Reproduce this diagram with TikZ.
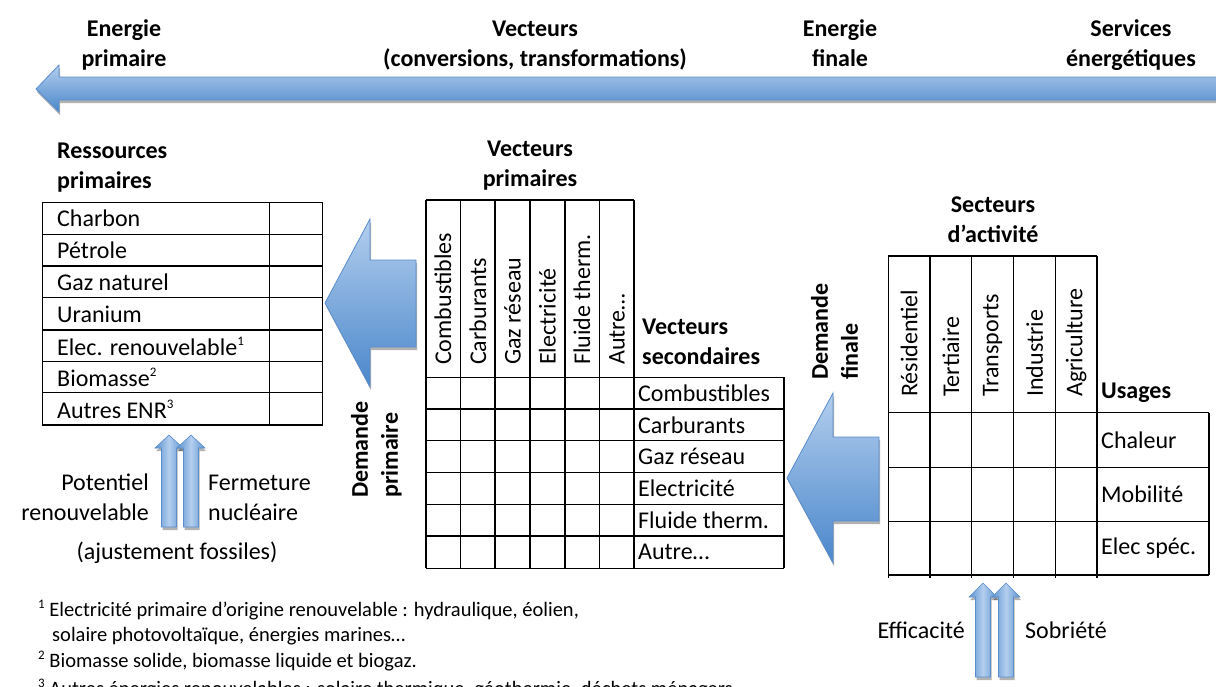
\documentclass[tikz,border=0pt]{standalone}
\usepackage{fontspec}
\setmainfont{Carlito}
\usetikzlibrary{shadows}
\definecolor{arlight}{HTML}{B3CEEE}
\definecolor{ardark}{HTML}{4A87CB}
\definecolor{arline}{HTML}{5A8DCC}
\newcommand\mysup[1]{\raisebox{0.42em}{\fontsize{13}{13}\selectfont #1}}
\begin{document}
\begin{tikzpicture}[x=1pt,y=-1pt,
  txt/.style={inner sep=0pt, font=\fontsize{24}{30}\selectfont},
  bold/.style={inner sep=0pt, font=\fontsize{24}{30}\selectfont\bfseries, align=center},
  two/.style={execute at begin node=\strut, execute at end node=\strut},
  foot/.style={inner sep=0pt, font=\fontsize{20.5}{25}\selectfont, anchor=west},
  vtxt/.style={txt, rotate=90, anchor=west},
  gridline/.style={line width=1.2pt, black},
  arshadow/.style={drop shadow={shadow xshift=1pt, shadow yshift=-3pt, opacity=0.3, fill=black}},
  bigarrow/.style={draw=arline, line width=0.8pt, top color=arlight, bottom color=ardark, arshadow},
  smallarrow/.style={draw=arline, line width=0.6pt, left color=ardark!90, right color=ardark!90, middle color=arlight, arshadow}
]
\useasboundingbox (0,0) rectangle (1216,686);
\clip (0,0) rectangle (1216,686);

% ---------- arrows ----------
\path[bigarrow] (1235,77) -- (59,77) -- (59,65) -- (36,89) -- (59,112) -- (59,100) -- (1235,100) -- cycle;
\path[bigarrow] (416,260) -- (370,260) -- (370,219) -- (325,303) -- (370,387) -- (370,347) -- (416,347) -- cycle;
\path[bigarrow] (879,437) -- (833,437) -- (833,393) -- (787,478) -- (833,563) -- (833,521) -- (879,521) -- cycle;
\foreach \cx/\ty/\by/\bt in {169/435/448/527, 191/435/448/527, 983/583/597/677, 1006/583/597/677}{
  \path[smallarrow] (\cx-7.5,\bt) -- (\cx-7.5,\by) -- (\cx-14,\by) -- (\cx,\ty) -- (\cx+14,\by) -- (\cx+7.5,\by) -- (\cx+7.5,\bt) -- cycle;
}

% ---------- left table ----------
\draw[gridline] (42.5,202.7) rectangle (322.5,425);
\draw[gridline] (269.5,202.7) -- (269.5,425);
\foreach \yy in {234.3,266,297.7,330,361.7,392.7}{\draw[gridline] (42.5,\yy) -- (322.5,\yy);}

% ---------- middle table ----------
\draw[gridline] (426,200) -- (634,200);
\foreach \xx in {426,460.5,495,530,565,599.5,634}{\draw[gridline] (\xx,200) -- (\xx,568.3);}
\draw[gridline] (784,377.3) -- (784,568.3);
\foreach \yy in {377.3,409,440.7,472.5,504.3,536,568.3}{\draw[gridline] (426,\yy) -- (784,\yy);}

% ---------- right table ----------
\draw[gridline] (888.3,256) -- (1097,256);
\foreach \xx in {888.3,930,971.7,1013.3,1055.7,1097}{\draw[gridline] (\xx,256) -- (\xx,578);}
\draw[gridline] (1209,412.7) -- (1209,575);
\foreach \yy in {412.7,467.5,521.5,575}{\draw[gridline] (888.3,\yy) -- (1209,\yy);}

% ---------- top labels ----------
\node[bold, two] (ep) at (124,48) {Energie\\primaire};
\node[bold, two] (vc) at (535,48) {Vecteurs\\(conversions, transformations)};
\node[bold, two] (ef) at (840,48) {Energie\\finale};
\node[bold, two] (se) at (1131,48) {Services\\énergétiques};

% ---------- left table text ----------
\node[bold, two, align=left, anchor=west] (rp) at (57,170) {Ressources\\primaires};
\node[txt, anchor=west] (r1) at (57,218.5) {Charbon};
\node[txt, anchor=west] (r2) at (57,250) {Pétrole};
\node[txt, anchor=west] (r3) at (57,282) {Gaz naturel};
\node[txt, anchor=west] (r4) at (57,314) {Uranium};
\node[txt, anchor=west] (r5) at (57,346) {Elec. renouvelable\mysup{1}};
\node[txt, anchor=west] (r6) at (57,377) {Biomasse\mysup{2}};
\node[txt, anchor=west] (r7) at (57,409) {Autres ENR\mysup{3}};

% ---------- middle table text ----------
\node[bold, two] (vp) at (530,168.5) {Vecteurs\\primaires};
\node[vtxt] (h1) at (443,365) {Combustibles};
\node[vtxt] (h2) at (478,365) {Carburants};
\node[vtxt] (h3) at (512.5,365) {Gaz réseau};
\node[vtxt] (h4) at (547.5,365) {Electricité};
\node[vtxt] (h5) at (582,365) {Fluide therm.};
\node[vtxt] (h6) at (617,365) {Autre…};
\node[bold, two, align=left, anchor=west] (vs) at (642,346.5) {Vecteurs\\secondaires};
\node[txt, anchor=west] (s1) at (638,393) {Combustibles};
\node[txt, anchor=west] (s2) at (638,425) {Carburants};
\node[txt, anchor=west] (s3) at (638,456.5) {Gaz réseau};
\node[txt, anchor=west] (s4) at (638,488.5) {Electricité};
\node[txt, anchor=west] (s5) at (638,520) {Fluide therm.};
\node[txt, anchor=west] (s6) at (638,552) {Autre…};
\node[bold, two, align=left, rotate=90, anchor=west] (dp) at (379,498) {Demande\\primaire};

% ---------- right table text ----------
\node[bold, two] (sa) at (993,224) {Secteurs\\d’activité};
\node[vtxt] (k1) at (909,397) {Résidentiel};
\node[vtxt] (k2) at (951,397) {Tertiaire};
\node[vtxt] (k3) at (992.5,397) {Transports};
\node[vtxt] (k4) at (1034.5,397) {Industrie};
\node[vtxt] (k5) at (1076,397) {Agriculture};
\node[bold, anchor=west] (us) at (1101,393) {Usages};
\node[txt, anchor=west] (u1) at (1101,440) {Chaleur};
\node[txt, anchor=west] (u2) at (1101,494.5) {Mobilité};
\node[txt, anchor=west] (u3) at (1101,548) {Elec spéc.};
\node[bold, two, align=left, rotate=90, anchor=west] (df) at (839,380) {Demande\\finale};

% ---------- small arrow labels ----------
\node[txt, two, align=right, anchor=east] (pr) at (149,502) {Potentiel\\renouvelable};
\node[txt, two, align=left, anchor=west] (fn) at (208,502) {Fermeture\\nucléaire};
\node[txt] (af) at (177,553) {(ajustement fossiles)};
\node[txt, anchor=east] (eff) at (965,630) {Efficacité};
\node[txt, anchor=west] (sob) at (1025,630) {Sobriété};

% ---------- footnotes ----------
\node[foot] (f1) at (38,610) {\mysup{1} Electricité primaire d’origine renouvelable : hydraulique, éolien,};
\node[foot] (f1b) at (52,636) {solaire photovoltaïque, énergies marines…};
\node[foot] (f2) at (38,661) {\mysup{2} Biomasse solide, biomasse liquide et biogaz.};
\node[foot] (f3) at (38,689) {\mysup{3} Autres énergies renouvelables : solaire thermique, géothermie, déchets ménagers};
\end{tikzpicture}
\end{document}
